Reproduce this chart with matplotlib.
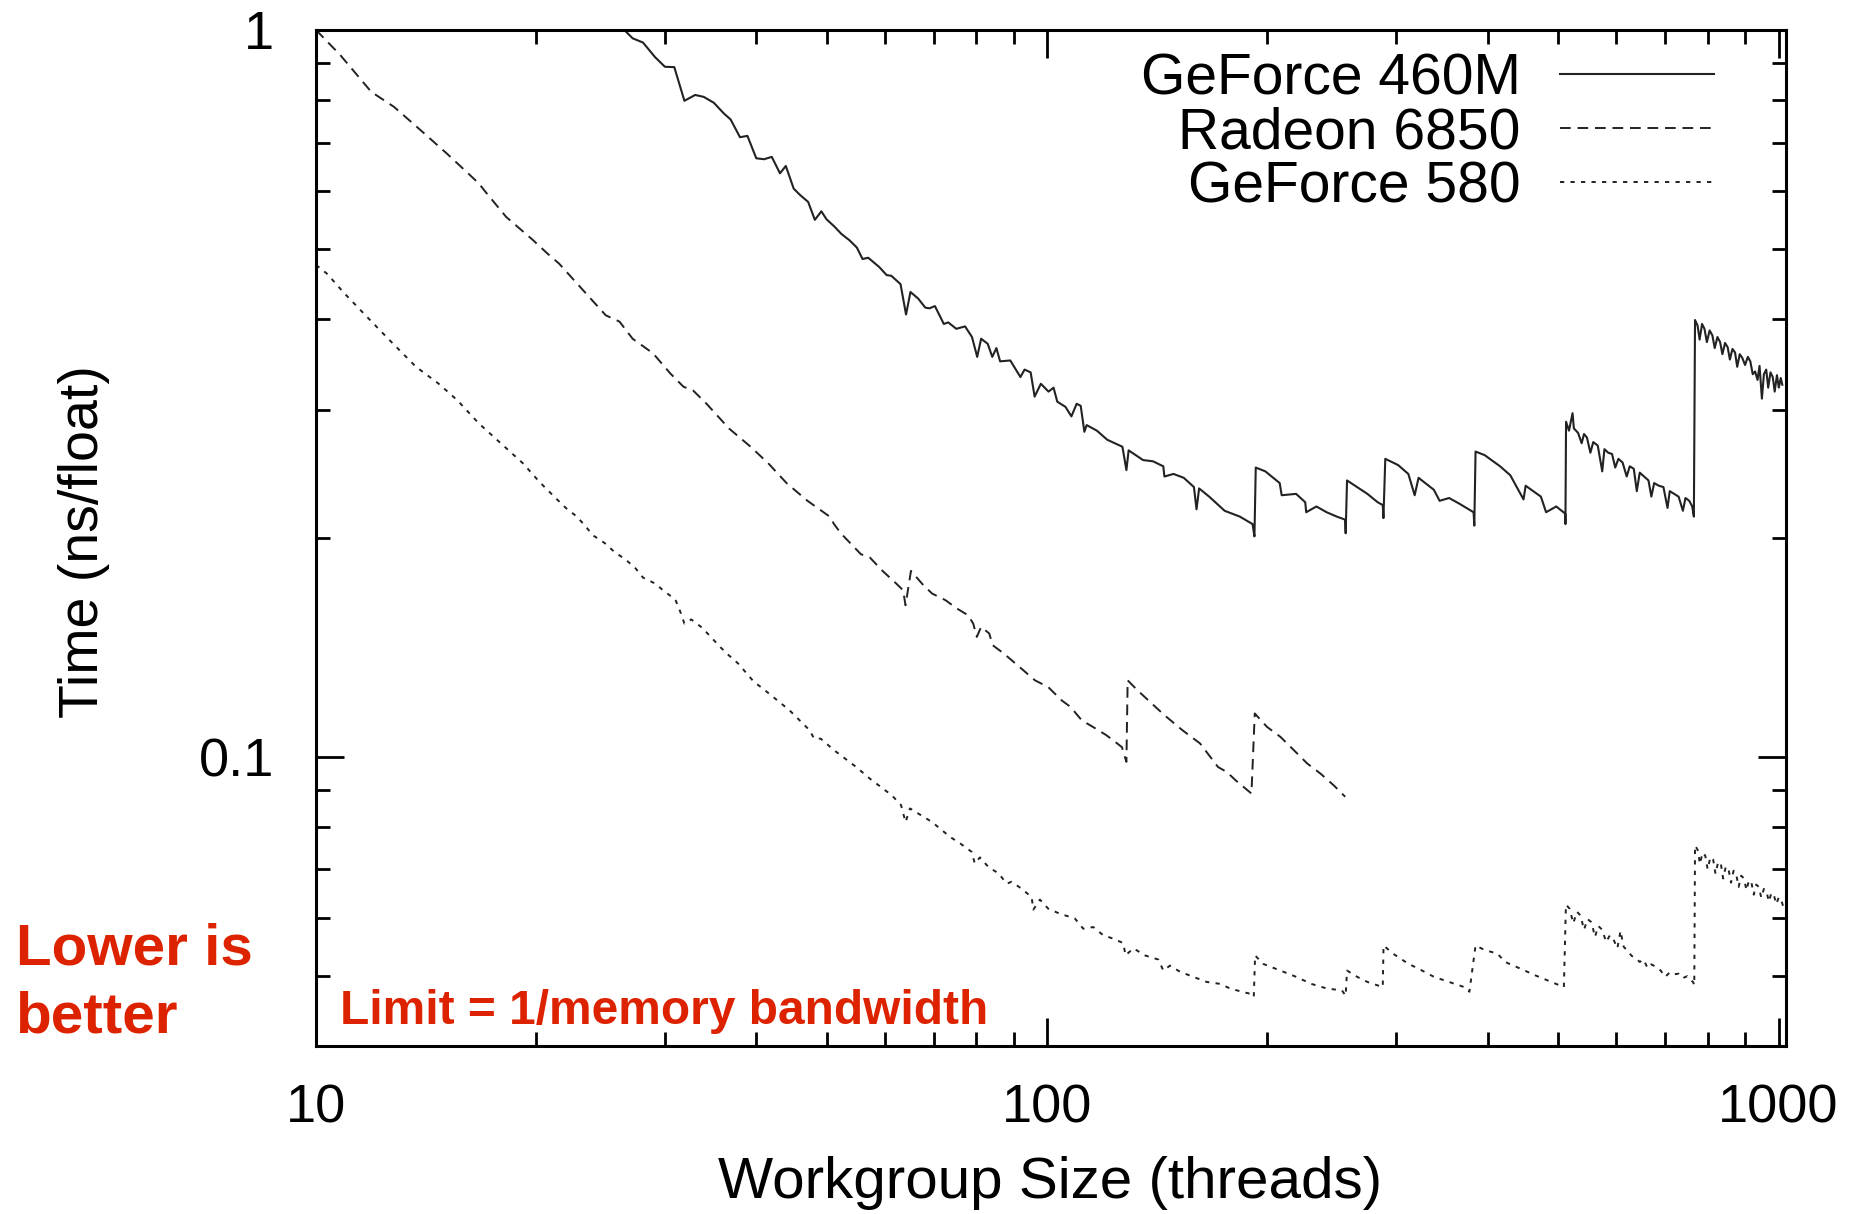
import matplotlib.pyplot as plt
from matplotlib.ticker import LogLocator, NullFormatter

plt.rcParams['font.family'] = ['Liberation Sans', 'DejaVu Sans']

# GeForce 460M (solid)
gf460_x = [26.4, 27.1, 28.0, 29.1, 30.0, 30.9, 31.9, 33.0, 33.9, 35.0,
           36.1, 36.9, 38.0, 38.9, 40.0, 41.0, 42.0, 43.1, 43.9, 45.0,
           45.9, 47.1, 48.1, 49.1, 49.9, 51.2, 52.3, 53.6, 54.9, 55.9,
           56.9, 58.9, 60.3, 61.2, 63.0, 64.1, 65.0, 66.6, 68.1, 69.0,
           70.2, 72.2, 73.2, 75.1, 77.2, 78.9, 80.2, 81.2, 82.9, 84.1,
           85.2, 86.2, 89.0, 91.9, 93.1, 94.9, 96.1, 98.0, 100.4, 102.0,
           103.2, 105.9, 107.9, 109.7, 111.1, 112.4, 113.2, 116.9, 120.8, 126.7,
           128.3, 129.2, 135.2, 139.5, 144.1, 144.6, 148.8, 153.7, 158.7, 160.0,
           161.3, 166.5, 174.8, 183.4, 190.9, 192.0, 192.8, 198.7, 207.9, 209.2,
           218.9, 225.3, 226.0, 233.4, 241.0, 248.9, 255.4, 255.9, 257.0, 274.0,
           283.0, 287.6, 288.2, 289.9, 301.8, 311.7, 318.0, 321.9, 337.8, 344.0,
           354.4, 365.9, 382.8, 383.7, 385.2, 396.5, 416.1, 429.7, 448.0, 451.0,
           473.2, 481.0, 496.6, 511.0, 511.2,
           512.2, 517, 522.8, 525, 532, 538, 542, 547, 553, 558,
           566, 574, 578, 585, 592, 598, 604, 612, 620, 626,
           634, 640, 646, 655, 664, 670, 676, 686, 696, 705,
           710, 720, 730, 740, 746, 755, 762, 766,
           768.8, 775, 780, 786, 792, 798, 805, 812, 818, 825,
           832, 838, 845, 852, 858, 865, 872, 878, 885, 892,
           900, 908, 915, 922, 929, 936, 942, 949, 955, 962,
           968, 975, 982, 988, 995, 1001, 1007, 1012]
gf460_y = [1.00, 0.974, 0.961, 0.917, 0.890, 0.889, 0.799, 0.814, 0.809, 0.794,
           0.768, 0.753, 0.712, 0.715, 0.666, 0.664, 0.669, 0.635, 0.650, 0.605,
           0.593, 0.580, 0.548, 0.563, 0.549, 0.536, 0.524, 0.514, 0.502, 0.484,
           0.486, 0.472, 0.460, 0.459, 0.447, 0.406, 0.436, 0.427, 0.415, 0.414,
           0.417, 0.394, 0.396, 0.388, 0.391, 0.378, 0.355, 0.376, 0.370, 0.355,
           0.365, 0.350, 0.351, 0.333, 0.341, 0.338, 0.313, 0.326, 0.318, 0.322,
           0.308, 0.303, 0.294, 0.306, 0.304, 0.280, 0.286, 0.281, 0.273, 0.267,
           0.248, 0.264, 0.256, 0.255, 0.251, 0.243, 0.245, 0.242, 0.235, 0.219,
           0.234, 0.228, 0.218, 0.214, 0.209, 0.201, 0.250, 0.247, 0.238, 0.229,
           0.230, 0.224, 0.217, 0.221, 0.217, 0.214, 0.212, 0.203, 0.240, 0.230,
           0.224, 0.222, 0.213, 0.257, 0.252, 0.245, 0.229, 0.242, 0.233, 0.225,
           0.227, 0.223, 0.217, 0.208, 0.263, 0.260, 0.251, 0.244, 0.226, 0.236,
           0.228, 0.217, 0.221, 0.216, 0.209,
           0.289, 0.281, 0.297, 0.283, 0.279, 0.270, 0.278, 0.275, 0.262, 0.271,
           0.268, 0.247, 0.265, 0.262, 0.261, 0.250, 0.257, 0.254, 0.243, 0.251,
           0.249, 0.232, 0.246, 0.243, 0.240, 0.228, 0.238, 0.236, 0.235, 0.220,
           0.232, 0.230, 0.228, 0.218, 0.227, 0.225, 0.221, 0.214,
           0.399, 0.392, 0.375, 0.394, 0.388, 0.372, 0.386, 0.380, 0.365, 0.378,
           0.372, 0.358, 0.371, 0.366, 0.352, 0.364, 0.360, 0.344, 0.358, 0.354,
           0.346, 0.355, 0.350, 0.336, 0.339, 0.330, 0.345, 0.311, 0.336, 0.341,
           0.322, 0.338, 0.333, 0.318, 0.335, 0.322, 0.332, 0.325]

# Radeon 6850 (dashed)
rad_x = [10.0, 10.79, 11.9, 12.78, 13.9, 15.1, 16.7, 17.0, 18.2, 19.8,
         20.7, 21.5, 23.4, 24.9, 26.0, 27.1, 28.9, 30.5, 31.8, 32.8,
         34.2, 36.7, 39.3, 41.6, 44.0, 47.0, 50.4, 51.1, 52.2, 55.6,
         57.2, 59.6, 62.2, 63.5, 64.0, 65.1, 67.7, 69.6, 72.6, 75.2,
         77.9, 79.2, 80.1, 81.2, 83.3, 84.2, 87.2, 92.2, 96.2, 100.3,
         104.6, 107.6, 111.5, 115.5, 120.4, 123.9, 126.5, 128.3, 128.8, 132.9,
         140.6, 144.6, 153.0, 161.8, 171.2, 176.0, 181.0, 190.2, 192.2, 199.8,
         208.4, 217.4, 226.7, 236.4, 246.6, 255.5]
rad_y = [1.00, 0.924, 0.822, 0.784, 0.728, 0.676, 0.615, 0.601, 0.553, 0.514,
         0.493, 0.477, 0.434, 0.405, 0.397, 0.376, 0.359, 0.337, 0.323, 0.319,
         0.306, 0.283, 0.267, 0.253, 0.238, 0.225, 0.214, 0.209, 0.203, 0.190,
         0.188, 0.180, 0.173, 0.1695, 0.1616, 0.1802, 0.1722, 0.1677, 0.1642, 0.1600,
         0.1566, 0.1525, 0.1462, 0.1509, 0.1478, 0.1424, 0.1387, 0.1322, 0.1274, 0.1247,
         0.1196, 0.1171, 0.1122, 0.1099, 0.1071, 0.1048, 0.1031, 0.0984, 0.1274, 0.1234,
         0.1171, 0.1141, 0.1088, 0.1043, 0.0968, 0.0953, 0.0928, 0.0890, 0.1147, 0.1099,
         0.1065, 0.1021, 0.0979, 0.0948, 0.0913, 0.0881]

# GeForce 580 (dotted)
gf580_x = [10.0, 10.34, 10.94, 11.74, 12.6, 13.7, 14.7, 15.6, 16.7, 17.9,
           19.2, 20.2, 21.3, 22.0, 22.7, 23.3, 23.9, 24.8, 25.6, 26.5,
           27.3, 28.0, 29.1, 29.9, 31.0, 31.5, 31.9, 32.6, 33.7, 34.6,
           35.7, 36.6, 37.8, 39.7, 40.8, 44.4, 47.3, 48.0, 49.0, 51.1,
           54.8, 57.2, 61.3, 63.1, 64.0, 64.9, 69.6, 73.6, 76.0, 78.8,
           79.6, 80.9, 83.1, 85.8, 88.0, 89.4, 92.3, 95.2, 95.7, 97.7,
           100.3, 104.1, 107.5, 109.1, 112.0, 115.6, 119.3, 123.1, 127.1, 127.9,
           131.2, 136.0, 141.9, 144.1, 147.2, 151.9, 158.4, 165.2, 172.3, 177.8,
           184.5, 189.4, 191.6, 192.4, 197.2, 208.3, 218.9, 229.6, 241.0, 252.9,
           255.9, 257.0, 265.3, 274.0, 287.6, 288.3, 297.0, 311.7, 321.9, 337.8,
           354.4, 371.9, 377.8, 385.2, 396.5, 412.7, 422.8, 443.7, 465.6, 488.7,
           508.7,
           512, 518, 524, 530, 536, 542, 548, 555, 561, 567,
           574, 581, 588, 595, 602, 608, 614, 622, 630, 638,
           646, 654, 662, 670, 680, 690, 700, 710, 720, 730,
           740, 750, 758, 764, 767,
           768.8, 775, 781, 787, 794, 800, 807, 814, 820, 827,
           834, 840, 847, 854, 861, 868, 875, 882, 889, 897,
           904, 911, 918, 925, 932, 940, 947, 955, 963, 970,
           978, 986, 993, 1001, 1008, 1015, 1022]
gf580_y = [0.475, 0.4625, 0.434, 0.403, 0.3745, 0.344, 0.3263, 0.3095, 0.2875, 0.2699,
           0.2532, 0.239, 0.2266, 0.2196, 0.2143, 0.2083, 0.2018, 0.1969, 0.1913, 0.1868,
           0.1821, 0.1764, 0.1731, 0.1691, 0.1646, 0.1582, 0.1525, 0.1545, 0.1506, 0.1465,
           0.1416, 0.1382, 0.1343, 0.1268, 0.1242, 0.1159, 0.1088, 0.1059, 0.1059, 0.1021,
           0.0968, 0.0933, 0.0885, 0.0858, 0.0813, 0.0849, 0.0813, 0.0776, 0.0760, 0.0740,
           0.0713, 0.0727, 0.0705, 0.0691, 0.0669, 0.0673, 0.0658, 0.0641, 0.0616, 0.0636,
           0.0618, 0.0608, 0.0602, 0.0599, 0.0580, 0.0583, 0.0568, 0.0562, 0.0554, 0.0533,
           0.0545, 0.0533, 0.0526, 0.0508, 0.0516, 0.0506, 0.0498, 0.0490, 0.0487, 0.0480,
           0.0475, 0.0472, 0.0467, 0.0533, 0.0519, 0.0508, 0.0498, 0.0487, 0.0480, 0.0477,
           0.0469, 0.0508, 0.0498, 0.0490, 0.0482, 0.0550, 0.0536, 0.0519, 0.0511, 0.0498,
           0.0490, 0.0482, 0.0475, 0.0550, 0.0542, 0.0536, 0.0522, 0.0511, 0.0500, 0.0490,
           0.0482,
           0.0626, 0.0618, 0.0590, 0.0612, 0.0605, 0.0578, 0.0598, 0.0592, 0.0565, 0.0585,
           0.0578, 0.0556, 0.0568, 0.0560, 0.0545, 0.0576, 0.0548, 0.0540, 0.0532, 0.0528,
           0.0522, 0.0526, 0.0512, 0.0518, 0.0514, 0.0508, 0.0498, 0.0505, 0.0502, 0.0503,
           0.0496, 0.0499, 0.0493, 0.0490, 0.0485,
           0.0755, 0.0745, 0.0712, 0.0738, 0.0731, 0.0700, 0.0728, 0.0722, 0.0690, 0.0717,
           0.0712, 0.0680, 0.0706, 0.0702, 0.0671, 0.0697, 0.0690, 0.0662, 0.0686, 0.0680,
           0.0655, 0.0676, 0.0672, 0.0646, 0.0667, 0.0662, 0.0640, 0.0658, 0.0652, 0.0632,
           0.0650, 0.0644, 0.0627, 0.0641, 0.0636, 0.0622, 0.0632]

labels = ['GeForce 460M', 'Radeon 6850', 'GeForce 580']
red = '#DD2200'
ink = '#222222'

fig = plt.figure(figsize=(18.71, 12.14), dpi=100)
ax = fig.add_axes([0.1689, 0.1384, 0.7857, 0.8369])

ax.plot(gf460_x, gf460_y, color=ink, lw=1.5, label=labels[0])
ax.plot(rad_x, rad_y, color=ink, lw=1.4, ls=(0, (5.5, 3.5)), label=labels[1])
ax.plot(gf580_x, gf580_y, color=ink, lw=1.4, ls=(0, (2.2, 3.2)), label=labels[2])

ax.set_xscale('log')
ax.set_yscale('log')
ax.set_xlim(10, 1024)
ax.set_ylim(0.04, 1)
ax.set_xticks([10, 100, 1000], ['10', '100', '1000'])
ax.set_yticks([0.1, 1], ['0.1', '1'])
for a in (ax.xaxis, ax.yaxis):
    a.set_minor_locator(LogLocator(base=10, subs=range(2, 10)))
    a.set_minor_formatter(NullFormatter())

ax.tick_params(which='both', direction='in', top=True, right=True, width=2)
ax.tick_params(which='major', length=20, labelsize=39)
ax.tick_params(which='minor', length=10)
ax.tick_params(axis='x', which='major', pad=27)
ax.tick_params(axis='y', which='major', pad=30)
for s in ax.spines.values():
    s.set_linewidth(2.2)

ax.set_xlabel('Workgroup Size (threads)', fontsize=42)
ax.set_ylabel('Time (ns/float)', fontsize=40)
ax.xaxis.set_label_coords(0.499, -0.108)
ax.yaxis.set_label_coords(-0.140, 0.496)

ax.legend(loc='upper right', bbox_to_anchor=(0.951, 0.978), frameon=False,
          markerfirst=False, fontsize=41, borderaxespad=0, borderpad=0,
          labelspacing=0.0, handlelength=2.7, handletextpad=0.7)

fig.text(0.0083, 0.2059, 'Lower is', color=red, fontsize=42, fontweight='bold',
         va='baseline', ha='left')
fig.text(0.0083, 0.1499, 'better', color=red, fontsize=42, fontweight='bold',
         va='baseline', ha='left')
fig.text(0.1817, 0.1565, 'Limit = 1/memory bandwidth', color=red, fontsize=34.5,
         fontweight='bold', va='baseline', ha='left')

fig.savefig('out.png', dpi=100)
